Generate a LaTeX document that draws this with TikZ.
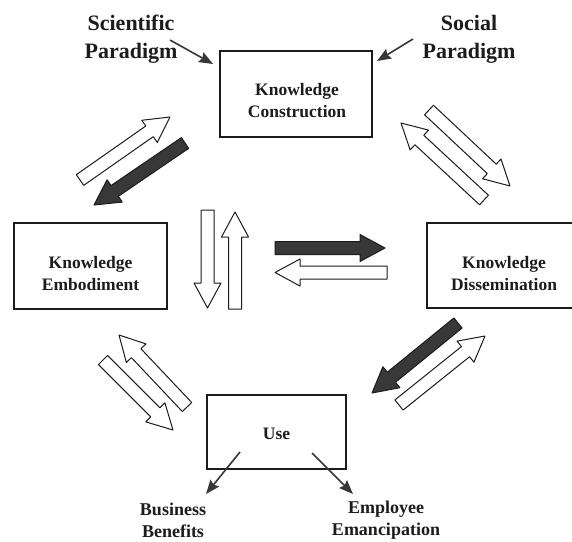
\documentclass[tikz,border=0pt]{standalone}
\usepackage{fontspec}
\setmainfont{Liberation Serif}
\usetikzlibrary{calc,arrows.meta}
\definecolor{dark}{HTML}{383838}
\definecolor{ink}{HTML}{1C1C1C}
\newcommand\blockarr[3]{%
  \coordinate (bt) at (#2); \coordinate (bh) at (#3);
  \coordinate (bb) at ($(bh)!25pt!(bt)$);
  \draw[barrow,fill=#1] ($(bt)!6.5pt!90:(bh)$) -- ($(bb)!6.5pt!90:(bh)$) -- ($(bb)!13.5pt!90:(bh)$) -- (bh) -- ($(bb)!13.5pt!-90:(bh)$) -- ($(bb)!6.5pt!-90:(bh)$) -- ($(bt)!6.5pt!-90:(bh)$) -- cycle;}
\begin{document}
\begin{tikzpicture}[x=1pt,y=-1pt,
  box/.style={draw=ink, line width=1.4pt, inner sep=0pt},
  boxtxt/.style={align=center, text=ink, inner sep=0pt,
    font=\fontsize{17.5}{22}\selectfont\bfseries},
  toplbl/.style={align=center, text=ink, font=\fontsize{22}{28}\selectfont\bfseries},
  botlbl/.style={align=center, text=ink, inner sep=1pt, font=\fontsize{18}{22}\selectfont\bfseries},
  barrow/.style={draw=ink, line width=1pt, line join=round},
  smallarr/.style={draw=dark, line width=1.6pt, -{Stealth[length=14pt,width=11pt,inset=2pt]}, fill=dark}]
\clip (0,0) rectangle (572,541);
\fill[white] (0,0) rectangle (572,541);
% boxes
\node[box, minimum width=152pt, minimum height=86pt] (kc) at (296,94) {};
\node[box, minimum width=153pt, minimum height=86pt] (ke) at (90.5,266) {};
\node[box, minimum width=154pt, minimum height=85pt] (kd) at (504,265.5) {};
\node[box, minimum width=139pt, minimum height=74pt] (use) at (276.5,432) {};
\node[boxtxt] (kct) at ($(kc)+(1,7)$) {Knowledge\\Construction};
\node[boxtxt] (ket) at ($(ke)+(0,8)$) {Knowledge\\Embodiment};
\node[boxtxt] (kdt) at ($(kd)+(0,8)$) {Knowledge\\Dissemination};
\node[boxtxt] (uset) at ($(use)+(0,2)$) {Use};
% labels
\node[toplbl] (sci) at (131,39) {Scientific\\Paradigm};
\node[toplbl] (soc) at (469,39) {Social\\Paradigm};
\node[botlbl] (bus) at (173,520.5) {Business\\Benefits};
\node[botlbl] (emp) at (386,520.5) {Employee\\Emancipation};
% small arrows
\coordinate (sciA) at (170,40); \coordinate (sciB) at (213,64);
\coordinate (socA) at (413,39); \coordinate (socB) at (377,61);
\coordinate (busA) at (240,452); \coordinate (busB) at (206,494);
\coordinate (empA) at (312,453); \coordinate (empB) at (353,494);
\draw[smallarr] (sciA) -- (sciB);
\draw[smallarr] (socA) -- (socB);
\draw[smallarr] (busA) -- (busB);
\draw[smallarr] (empA) -- (empB);
% block arrows: top-left
\blockarr{white}{80,180}{170,117}
\blockarr{dark}{185,143}{94,205}
% top-right
\blockarr{white}{484,200}{401,123}
\blockarr{white}{429,110}{510,186}
% centre vertical
\blockarr{white}{207.5,210}{207.5,308}
\blockarr{white}{235,309}{235,212}
% centre horizontal
\blockarr{dark}{275,248}{385,248}
\blockarr{white}{387,272.5}{275,272.5}
% bottom-left
\blockarr{white}{187,407}{119,335}
\blockarr{white}{103,360}{173,430}
% bottom-right
\blockarr{dark}{458,323}{372,393}
\blockarr{white}{399,405}{485,336}
\end{tikzpicture}
\end{document}
